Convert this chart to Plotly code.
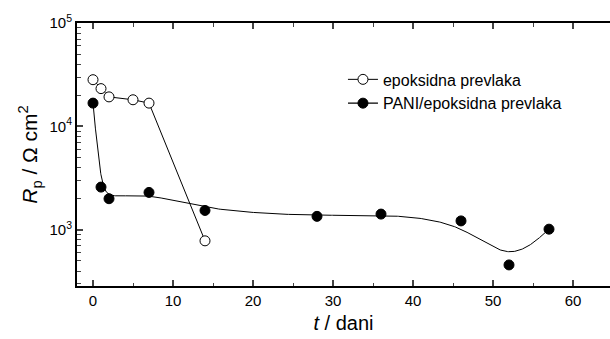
import numpy as np
import plotly.graph_objects as go

# data
t_epoxy = [0, 1, 2, 5, 7, 14]
r_epoxy = [28300, 23200, 19300, 18100, 16800, 783]
t_pani = [0, 1, 2, 7, 14, 28, 36, 46, 52, 57]
r_pani = [16800, 2590, 2000, 2300, 1540, 1350, 1420, 1220, 458, 1015]

x_ticks = [0, 10, 20, 30, 40, 50, 60]
y_tickvals = [1e3, 1e4, 1e5]
y_ticktext = ["10<sup>3</sup>", "10<sup>4</sup>", "10<sup>5</sup>"]

name_epoxy = "epoksidna prevlaka"
name_pani = "PANI/epoksidna prevlaka"


def bspline(xs, ys, m=60):
    """Uniform cubic B-spline with the data points as control points (end points tripled),
    evaluated in (x, log10 y) space - like Origin's B-spline connection."""
    P = np.column_stack([np.asarray(xs, float), np.log10(np.asarray(ys, float))])
    P = np.vstack([P[0], P[0], P, P[-1], P[-1]])
    s = np.linspace(0, 1, m)
    B = np.column_stack([
        (1 - s) ** 3 / 6,
        (3 * s ** 3 - 6 * s ** 2 + 4) / 6,
        (-3 * s ** 3 + 3 * s ** 2 + 3 * s + 1) / 6,
        s ** 3 / 6,
    ])
    pts = [B @ P[i:i + 4] for i in range(len(P) - 3)]
    C = np.vstack(pts)
    return C[:, 0], 10 ** C[:, 1]


cx, cy = bspline(t_pani, r_pani)

FONT = "Liberation Sans, Arial, sans-serif"
MS = 10

fig = go.Figure()
fig.add_trace(go.Scatter(
    x=t_epoxy, y=r_epoxy, mode="lines+markers", name=name_epoxy,
    line=dict(color="black", width=1),
    marker=dict(symbol="circle", size=MS, color="white", line=dict(color="black", width=1)),
))
fig.add_trace(go.Scatter(
    x=[None], y=[None], mode="lines+markers", name=name_pani,
    line=dict(color="black", width=1.3),
    marker=dict(symbol="circle", size=MS, color="black", line=dict(color="black", width=1)),
))
fig.add_trace(go.Scatter(
    x=cx, y=cy, mode="lines", showlegend=False,
    line=dict(color="black", width=1), hoverinfo="skip",
))
fig.add_trace(go.Scatter(
    x=t_pani, y=r_pani, mode="markers", showlegend=False,
    marker=dict(symbol="circle", size=MS, color="black", line=dict(color="black", width=1)),
))

fig.update_layout(
    width=610, height=339,
    margin=dict(l=77, r=0, t=23, b=53),
    paper_bgcolor="white", plot_bgcolor="white",
    font=dict(family=FONT, size=15, color="black"),
    showlegend=True,
    legend=dict(
        x=0.499, y=0.85, xanchor="left", yanchor="top",
        bgcolor="rgba(0,0,0,0)", font=dict(size=16, family=FONT),
        tracegroupgap=0,
    ),
)
fig.update_xaxes(
    range=[-2, 64.625], tickvals=x_ticks, ticks="inside", ticklen=6, tickwidth=1.5,
    showline=True, linewidth=2, linecolor="black", mirror="ticks",
    showgrid=False, zeroline=False,
    tickfont=dict(size=15, family=FONT),
    minor=dict(dtick=5, tick0=0, ticks="inside", ticklen=3.5, tickwidth=1.2, showgrid=False),
    title=dict(text="<i>t</i> / dani", font=dict(size=20, family=FONT), standoff=8),
)
fig.update_yaxes(
    type="log", range=[2.457, 5], tickvals=y_tickvals, ticktext=y_ticktext,
    ticks="inside", ticklen=6, tickwidth=1.5,
    showline=True, linewidth=2, linecolor="black", mirror=False,
    showgrid=False, zeroline=False,
    tickfont=dict(size=15, family=FONT),
    minor=dict(ticks="inside", ticklen=3.5, tickwidth=1.2, showgrid=False, dtick="D1"),
    title=dict(text="<i>R</i><sub>p</sub> / Ω cm<sup>2</sup>", font=dict(size=21, family=FONT), standoff=6),
)

fig.write_html("out.html")
